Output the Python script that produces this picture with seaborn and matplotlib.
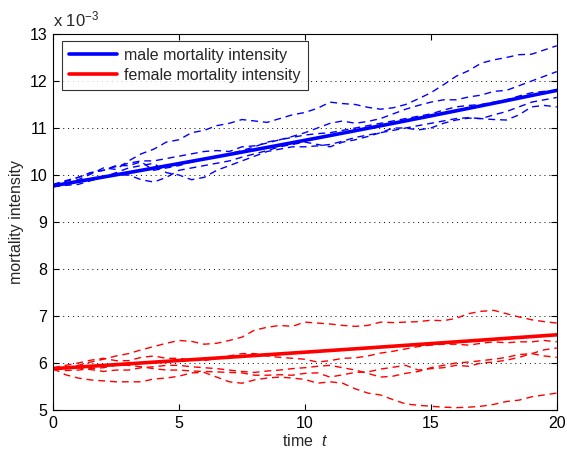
import numpy as np
import pandas as pd
import matplotlib
matplotlib.use("Agg")
import matplotlib.pyplot as plt
import seaborn as sns

# time grids
t_path = [i * 0.5 for i in range(41)]
t_mean = list(range(21))

# mean intensities (units of 1e-3)
male_mean = [9.77, 9.863, 9.957, 10.051, 10.147, 10.243, 10.340, 10.438, 10.537, 10.637, 10.738,
             10.840, 10.943, 11.047, 11.152, 11.258, 11.365, 11.473, 11.582, 11.692, 11.80]
female_mean = [5.88, 5.914, 5.948, 5.983, 6.018, 6.053, 6.088, 6.123, 6.159, 6.194, 6.230,
               6.266, 6.302, 6.339, 6.376, 6.413, 6.450, 6.487, 6.525, 6.562, 6.60]

# simulated male paths
male_1 = [9.78, 9.82, 9.9, 10.02, 10.15, 10.12, 10.3, 10.45, 10.55, 10.7, 10.75, 10.9, 10.95, 11.05,
          11.1, 11.18, 11.15, 11.12, 11.2, 11.28, 11.33, 11.42, 11.55, 11.52, 11.5, 11.44, 11.4, 11.43,
          11.5, 11.62, 11.75, 11.92, 12.1, 12.22, 12.38, 12.45, 12.5, 12.56, 12.57, 12.66, 12.75]
male_2 = [9.78, 9.86, 9.95, 10.05, 10.1, 10.2, 10.2, 10.28, 10.1, 10.15, 10.2, 10.28, 10.35, 10.4,
          10.45, 10.52, 10.6, 10.7, 10.75, 10.82, 10.9, 11.0, 11.1, 11.15, 11.1, 11.14, 11.2, 11.3,
          11.4, 11.48, 11.55, 11.6, 11.6, 11.66, 11.7, 11.78, 11.8, 11.9, 12.0, 12.1, 12.2]
male_3 = [9.75, 9.8, 9.85, 9.92, 9.95, 10.05, 10.15, 10.2, 10.25, 10.05, 10.0, 9.9, 9.95, 10.1,
          10.2, 10.3, 10.4, 10.5, 10.55, 10.6, 10.6, 10.62, 10.65, 10.72, 10.8, 10.85, 10.9, 10.95,
          11.0, 11.05, 11.1, 11.15, 11.2, 11.22, 11.2, 11.28, 11.35, 11.45, 11.55, 11.6, 11.65]
male_4 = [9.75, 9.78, 9.8, 9.88, 9.95, 10.0, 10.0, 9.9, 9.85, 9.95, 10.1, 10.15, 10.2, 10.25,
          10.3, 10.38, 10.45, 10.52, 10.6, 10.65, 10.7, 10.65, 10.6, 10.7, 10.75, 10.82, 10.9, 11.0,
          11.0, 10.96, 11.0, 11.1, 11.17, 11.21, 11.2, 11.18, 11.17, 11.28, 11.45, 11.48, 11.45]
male_5 = [9.8, 9.88, 9.95, 10.05, 10.1, 10.18, 10.25, 10.3, 10.3, 10.35, 10.4, 10.45, 10.5, 10.52,
          10.5, 10.6, 10.62, 10.68, 10.75, 10.8, 10.85, 10.88, 10.9, 10.95, 11.0, 11.05, 11.1, 11.15,
          11.2, 11.25, 11.3, 11.38, 11.45, 11.48, 11.5, 11.55, 11.6, 11.68, 11.75, 11.78, 11.8]

# simulated female paths
female_1 = [5.88, 5.9, 5.95, 6.02, 6.08, 6.15, 6.2, 6.28, 6.35, 6.42, 6.48, 6.46, 6.4, 6.42,
            6.48, 6.55, 6.7, 6.76, 6.8, 6.78, 6.87, 6.85, 6.83, 6.8, 6.78, 6.8, 6.87, 6.86,
            6.87, 6.88, 6.91, 6.9, 6.95, 7.05, 7.1, 7.12, 7.05, 6.98, 6.92, 6.88, 6.85]
female_2 = [5.9, 5.95, 6.0, 6.06, 6.1, 6.05, 6.05, 6.12, 6.15, 6.1, 6.1, 6.06, 6.05, 6.1,
            6.15, 6.2, 6.2, 6.15, 6.12, 6.1, 6.08, 6.02, 6.05, 6.1, 6.11, 6.15, 6.21, 6.25,
            6.3, 6.35, 6.38, 6.4, 6.4, 6.38, 6.42, 6.45, 6.43, 6.45, 6.45, 6.48, 6.45]
female_3 = [5.88, 5.84, 5.85, 5.88, 5.9, 5.95, 5.95, 5.92, 5.88, 5.85, 5.85, 5.83, 5.82, 5.81,
            5.8, 5.79, 5.74, 5.74, 5.75, 5.74, 5.78, 5.79, 5.7, 5.75, 5.8, 5.81, 5.87, 5.91,
            5.95, 5.85, 5.88, 5.9, 5.95, 5.93, 6.0, 6.02, 6.06, 6.12, 6.2, 6.28, 6.32]
female_4 = [5.85, 5.88, 5.9, 5.86, 5.82, 5.85, 5.85, 5.9, 5.92, 5.95, 5.95, 5.92, 5.9, 5.88,
            5.85, 5.82, 5.8, 5.83, 5.85, 5.88, 5.9, 5.93, 5.95, 5.9, 5.85, 5.78, 5.7, 5.72,
            5.78, 5.82, 5.9, 5.95, 6.0, 6.02, 6.05, 6.08, 6.12, 6.18, 6.2, 6.15, 6.12]
female_5 = [5.88, 5.75, 5.68, 5.64, 5.62, 5.6, 5.6, 5.6, 5.66, 5.68, 5.72, 5.79, 5.8, 5.7,
            5.6, 5.57, 5.64, 5.68, 5.7, 5.68, 5.65, 5.57, 5.6, 5.57, 5.45, 5.36, 5.32, 5.22,
            5.13, 5.1, 5.08, 5.06, 5.05, 5.06, 5.08, 5.12, 5.18, 5.21, 5.28, 5.32, 5.36]

x_ticks = [0, 5, 10, 15, 20]
y_ticks = [5, 6, 7, 8, 9, 10, 11, 12, 13]

sns.set_style("ticks")
plt.rcParams['font.family'] = ['Liberation Sans', 'DejaVu Sans']
plt.rcParams['mathtext.fontset'] = 'custom'
plt.rcParams['mathtext.rm'] = 'Liberation Sans'
plt.rcParams['mathtext.it'] = 'Liberation Sans:italic'

fig = plt.figure(figsize=(5.67, 4.51), dpi=100)
ax = fig.add_axes([0.0935, 0.0909, 0.8885, 0.8337])

blue = '#0000FF'
red = '#FF0000'

for path in [male_1, male_2, male_3, male_4, male_5]:
    sns.lineplot(x=t_path, y=path, ax=ax, color=blue, linewidth=1.0, estimator=None,
                 dashes=False, legend=False)
for path in [female_1, female_2, female_3, female_4, female_5]:
    sns.lineplot(x=t_path, y=path, ax=ax, color=red, linewidth=1.0, estimator=None,
                 dashes=False, legend=False)
for ln in ax.get_lines():
    ln.set_dashes((5, 3.5))

sns.lineplot(x=t_mean, y=male_mean, ax=ax, color=blue, linewidth=2.6, estimator=None,
             label='male mortality intensity')
sns.lineplot(x=t_mean, y=female_mean, ax=ax, color=red, linewidth=2.6, estimator=None,
             label='female mortality intensity')

ax.set_xlim(0, 20)
ax.set_ylim(5, 13)
ax.set_xticks(x_ticks)
ax.set_yticks(y_ticks)
ax.set_xticklabels([str(v) for v in x_ticks], fontsize=11.5)
ax.set_yticklabels([str(v) for v in y_ticks], fontsize=11.5)
ax.tick_params(direction='in', top=True, right=True, length=4, width=0.8, colors='black', pad=4)
for s in ax.spines.values():
    s.set_visible(True)
    s.set_linewidth(0.8)
    s.set_color('black')

ax.yaxis.grid(True, linestyle=(0, (1, 4)), color='black', linewidth=0.7)
ax.xaxis.grid(False)
ax.set_axisbelow(True)

ax.set_xlabel('time  $t$', fontsize=11.5, labelpad=2)
ax.set_ylabel('mortality intensity', fontsize=11.5, labelpad=4)
ax.text(0.0, 1.012, r'x 10$^{-3}$', transform=ax.transAxes, fontsize=12, ha='left', va='bottom')

leg = ax.legend(loc='upper left', bbox_to_anchor=(0.018, 0.982), fontsize=11.5, frameon=True,
                fancybox=False, edgecolor='black', handlelength=3.0, borderpad=0.45,
                labelspacing=0.3, handletextpad=0.45, borderaxespad=0.0)
leg.get_frame().set_linewidth(0.8)

fig.savefig('out.png', dpi=100)
